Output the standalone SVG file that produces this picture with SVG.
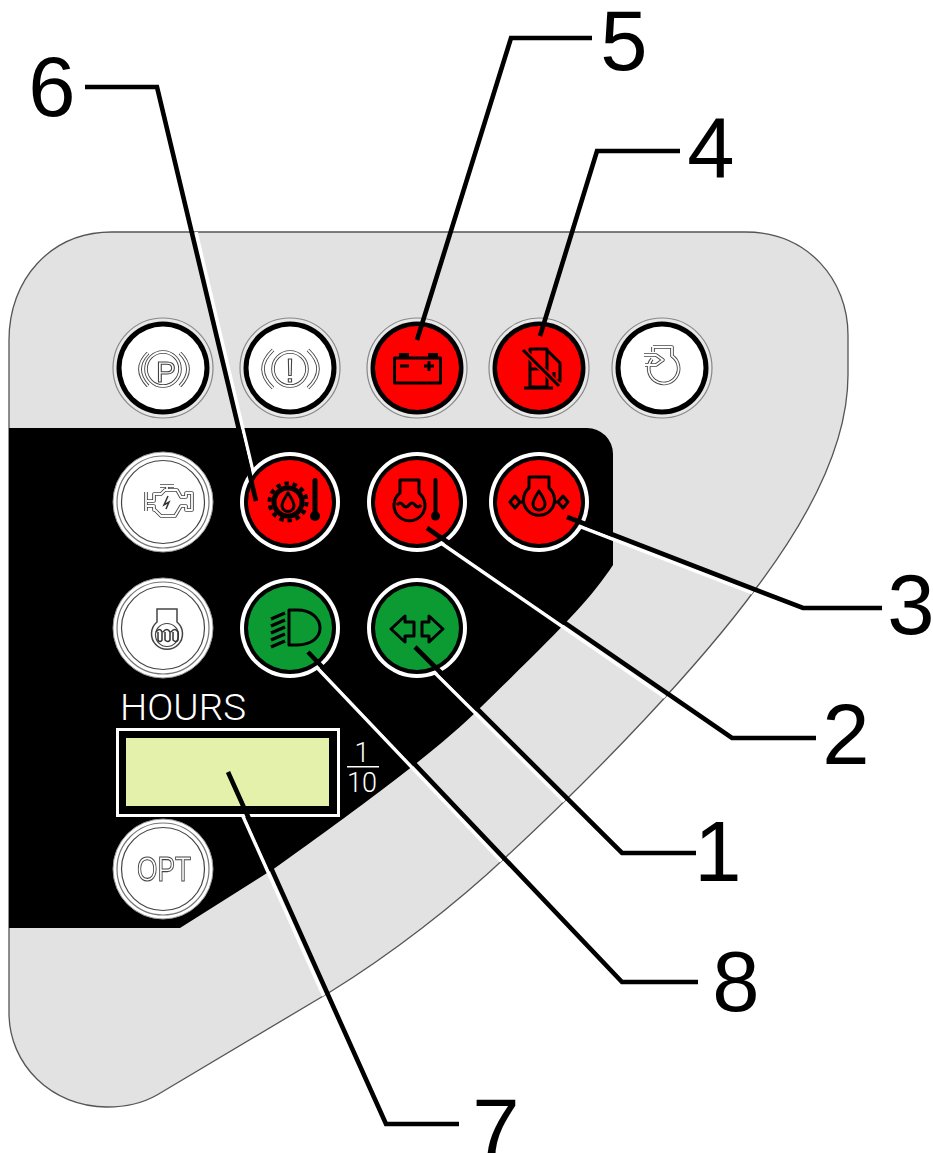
<svg xmlns="http://www.w3.org/2000/svg" xmlns:xlink="http://www.w3.org/1999/xlink" width="933" height="1153" viewBox="0 0 933 1153">
<style>
.lbl{font-family:"Liberation Sans",Arial,sans-serif;font-size:85px;fill:#000;text-anchor:middle}
.ldr{fill:none;stroke:#000;stroke-width:4.6;stroke-linejoin:miter}
.hal{fill:none;stroke:#fff;stroke-width:3.5}
.thin{font-family:Roboto,"Liberation Sans",sans-serif;font-weight:300;fill:#fff}
.i{fill:none;stroke:#000;stroke-width:3;stroke-linejoin:round}
.f{fill:#000;stroke:none}
.go{fill:none;stroke:#444;stroke-width:3.6;stroke-linejoin:round}
.gi{fill:none;stroke:#fff;stroke-width:1.8;stroke-linejoin:round}
.gt{fill:#fff;stroke:#444;stroke-width:1.1;font-family:"Liberation Sans",Arial,sans-serif;filter:url(#flat)}
</style>
<defs>
<filter id="flat" x="-20%" y="-20%" width="140%" height="140%"><feOffset dx="0" dy="0"/></filter>
<path id="panelShape" d="M9 340C9 280 50 232 112 232H745C808 232 848 280 848 335V375C848 440 815 510 757 587C700 665 600 770 507 856C455 905 390 955 330 992L157 1095C143 1103 125 1107 107 1107C52 1107 9 1065 9 1013Z"/>
<clipPath id="panelClip"><use xlink:href="#panelShape"/></clipPath>
<g id="plainBtn"><circle r="50" fill="#fff" stroke="#999" stroke-width="1"/><circle r="46" fill="none" stroke="#777" stroke-width="1.2"/><circle r="41.5" fill="none" stroke="#444" stroke-width="1.2"/></g>
<g id="ringBtn"><circle r="50" fill="#e8e8e8" stroke="#888" stroke-width="1.2"/><circle r="46.5" fill="#000"/><circle r="41.5" fill="#fff"/></g>
<g id="ringRed"><circle r="50" fill="#e8e8e8" stroke="#888" stroke-width="1.2"/><circle r="46.5" fill="#000"/><circle r="42" fill="#f00"/></g>
<g id="litRed"><circle r="50" fill="#fff"/><circle r="46" fill="#000"/><circle r="42" fill="#f00"/></g>
<g id="litGreen"><circle r="50" fill="#fff"/><circle r="46" fill="#000"/><circle r="42" fill="#0c9a33"/></g>
<path id="arcsP" d="M148 353Q132 369 148 386M180 353Q196 369 180 386"/>
<path id="arcsE" d="M273 350Q253 369 273 388M308 350Q328 369 308 388"/>
<path id="engineShape" d="M146 492V511M147 501H154V494H161L165 490H177L181 497H186V493H192V510H186V506H181L175 516H161L155 510H154V506H147M160 486H174M167 486V490"/>
<path id="glowShape" d="M157 609H177V622A15.5 15.5 0 1 1 157 622Z"/>
<path id="turboShape" d="M653 347H672V356A15 15 0 1 1 652 359M653 347V352M644 355H656L663 360L656 365H645"/>
</defs>

<g id="panel">
<use xlink:href="#panelShape" fill="#e2e2e2" stroke="#555" stroke-width="1.3"/>
<path d="M9 428H587A26 26 0 0 1 613 454V565C590 600 560 630 480 708C440 748 370 800 275 868L180 928H9Z" fill="#000"/>
</g>

<g id="connector-halos" clip-path="url(#panelClip)">
<path class="hal" d="M196 232L260 501"/>
<path class="hal" d="M566 521L802 612"/>
<path class="hal" d="M425 532L730 742"/>
<path class="hal" d="M412 650L619 856"/>
<path class="hal" d="M305 655L619 985"/>
<path class="hal" d="M224 774L382 1126"/>
</g>

<g id="btn-parking"><use xlink:href="#ringBtn" x="163" y="368"/>
<circle class="go" cx="163" cy="369" r="17"/><circle class="gi" cx="163" cy="369" r="17"/>
<use class="go" xlink:href="#arcsP"/><use class="gi" xlink:href="#arcsP"/>
<text class="gt" x="166" y="382" font-size="30" text-anchor="middle">P</text></g>

<g id="btn-brake"><use xlink:href="#ringBtn" x="290" y="368"/>
<circle class="go" cx="290" cy="369" r="17"/><circle class="gi" cx="290" cy="369" r="17"/>
<use class="go" xlink:href="#arcsE"/><use class="gi" xlink:href="#arcsE"/>
<text class="gt" x="290" y="382" font-size="34" text-anchor="middle">!</text></g>

<g id="btn-battery"><use xlink:href="#ringRed" x="417" y="368"/>
<rect class="i" x="394.5" y="358" width="46" height="25"/>
<path class="f" d="M399 353h10v5h-10zM428 353h10v5h-10zM400 364.500h9v3h-9zM424 364.500h3.500v-3.500h3v3.500h3.500v3h-3.500v3.500h-3v-3.500h-3.500z"/></g>

<g id="btn-fuel"><use xlink:href="#ringRed" x="539" y="368"/>
<path class="i" d="M530 349H547V387H530ZM530 369H547M524 388H553M548 351L560 363V381H554V372"/>
<path d="M523 350L559 386" fill="none" stroke="#f00" stroke-width="6"/>
<path d="M523 350L559 386" fill="none" stroke="#000" stroke-width="3"/></g>

<g id="btn-turbo"><use xlink:href="#ringBtn" x="662" y="368"/>
<use class="go" xlink:href="#turboShape"/><use class="gi" xlink:href="#turboShape"/></g>

<g id="btn-engine"><use xlink:href="#plainBtn" x="163" y="502"/>
<use class="go" xlink:href="#engineShape"/><use class="gi" xlink:href="#engineShape"/>
<path d="M168 496L164 505L169 502L166 509" fill="none" stroke="#333" stroke-width="1.5"/></g>

<g id="btn-oiltemp"><use xlink:href="#litRed" x="290" y="502"/>
<circle cx="288" cy="502" r="18.500" fill="none" stroke="#000" stroke-width="4" stroke-dasharray="4.500 3.800"/>
<circle cx="288" cy="502" r="14" fill="#f00" stroke="#000" stroke-width="5"/>
<path class="i" stroke-width="2.400" d="M288 493C284 499 282 502 282 505.500A6 6 0 0 0 294 505.500C294 502 292 499 288 493Z"/>
<rect x="312.500" y="478" width="5" height="36" rx="2.500" class="f"/><circle class="f" cx="315" cy="516" r="5"/></g>

<g id="btn-coolant"><use xlink:href="#litRed" x="417" y="502"/>
<path class="i" d="M400 480H419V493A15.500 15.500 0 1 1 400 493Z"/>
<path class="i" stroke-width="2.200" d="M397 505Q400 501 403 505T409 505T415 505T421 505"/>
<rect x="433.500" y="478" width="4" height="36" rx="2" class="f"/><circle class="f" cx="435.500" cy="516" r="4.500"/></g>

<g id="btn-oilpressure"><use xlink:href="#litRed" x="539" y="502"/>
<path class="i" d="M529 477H549V488A15.500 15.500 0 1 1 529 488Z"/>
<path class="i" stroke-width="2.600" d="M539 491C535 497 533 500 533 504A6 6 0 0 0 545 504C545 500 543 497 539 491Z"/>
<path class="i" stroke-width="2.200" d="M510 502L515 496L520 502L515 508ZM520 502H523M568 502L563 496L558 502L563 508ZM558 502H555"/></g>

<g id="btn-glow"><use xlink:href="#plainBtn" x="163" y="628"/>
<use xlink:href="#glowShape" style="fill:none;stroke:#444;stroke-width:1.500"/>
<circle cx="167" cy="635" r="11.500" fill="none" stroke="#444" stroke-width="1.200"/>
<path d="M156 632Q160 627 162 632V640Q160 643 158 640V632M163 632Q167 627 170 632V640Q168 643 165 640V632M171 632Q175 627 178 632V640Q176 643 173 640V632" fill="none" stroke="#333" stroke-width="1.500"/></g>

<g id="btn-beam"><use xlink:href="#litGreen" x="290" y="628"/>
<path class="i" stroke-width="2.500" d="M289 610H297C312 610 320 619 320 628C320 637 312 645 297 645H289Z"/>
<path d="M271 619L285 613M271 626L285 620M271 633L285 627M271 640L285 634M271 647L285 641" fill="none" stroke="#000" stroke-width="3.500"/></g>

<g id="btn-turn"><use xlink:href="#litGreen" x="417" y="628"/>
<path class="i" stroke-width="2.800" d="M391 629L405 616V622H414V636H405V642Z"/>
<path class="i" stroke-width="2.800" d="M443 629L429 616V622H422V636H429V642Z"/></g>

<g id="hours">
<rect x="117.500" y="729.500" width="221" height="86" fill="#000" stroke="#fff" stroke-width="3"/>
<rect x="126" y="738" width="203" height="68" fill="#e4f1ab"/>
<text class="thin" x="120" y="720" font-size="37" textLength="126" lengthAdjust="spacingAndGlyphs">HOURS</text>
<text class="thin" x="362" y="762" font-size="27" text-anchor="middle">1</text>
<rect x="347" y="766" width="32" height="1.500" fill="#fff"/>
<text class="thin" x="362" y="792" font-size="27" text-anchor="middle">10</text>
</g>

<g id="btn-opt"><use xlink:href="#plainBtn" x="163" y="869"/>
<text class="gt" x="137" y="881" font-size="35" textLength="54" lengthAdjust="spacingAndGlyphs">OPT</text></g>

<g id="connectors">
<path class="ldr" d="M85 87H157L256 501"/>
<path class="ldr" d="M592 38H511L417 340"/>
<path class="ldr" d="M680 151H597L540 336"/>
<path class="ldr" d="M882 608H803L567 517"/>
<path class="ldr" d="M816 738H732L427 528"/>
<path class="ldr" d="M696 853H622L415 647"/>
<path class="ldr" d="M698 982H622L308 652"/>
<path class="ldr" d="M459 1124H386L228 772"/>
</g>

<g id="labels">
<text class="lbl" x="52" y="116">6</text>
<text class="lbl" x="624" y="70">5</text>
<text class="lbl" x="711" y="177">4</text>
<text class="lbl" x="911" y="634">3</text>
<text class="lbl" x="846" y="764">2</text>
<text class="lbl" x="718" y="881">1</text>
<text class="lbl" x="736" y="1011">8</text>
<text class="lbl" x="496" y="1158">7</text>
</g>
</svg>
